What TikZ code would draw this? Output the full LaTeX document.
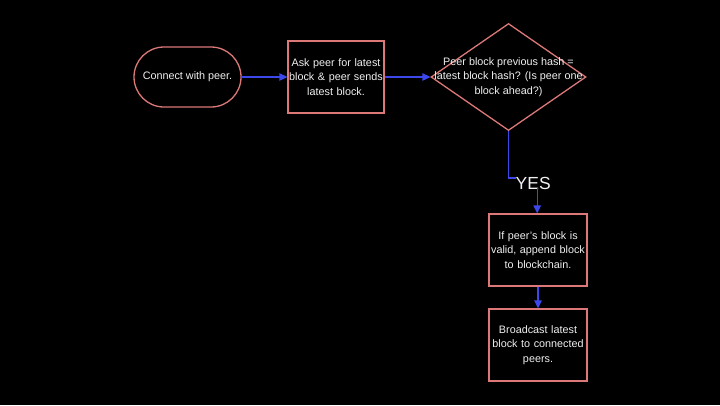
\documentclass[tikz,border=0pt]{standalone}
\usepackage{fontspec}
\setmainfont{Liberation Sans}
\usetikzlibrary{shapes.geometric,arrows.meta}
\definecolor{edgepink}{RGB}{220,120,120}
\definecolor{flowblue}{RGB}{60,72,235}
\definecolor{txt}{RGB}{240,240,240}
\begin{document}
\begin{tikzpicture}[x=1pt,y=-1pt,
  every node/.style={text=txt,font=\fontsize{10.8}{14.3}\selectfont},
  procbox/.style={draw=edgepink,line width=1.3pt,fill=black,minimum width=#1,minimum height=72pt,align=center,inner sep=1pt},
  flow/.style={draw=flowblue,line width=1.3pt,-{Triangle[length=8pt,width=7.5pt]}},
  flowline/.style={draw=flowblue,line width=1.3pt}]
\fill[black] (0,0) rectangle (720,405);
\useasboundingbox (0,0) rectangle (720,405);
\node[draw=edgepink,line width=1.3pt,rounded corners=30pt,minimum width=107pt,minimum height=60pt] (start) at (187.5,77) {Connect with peer.};
\node[procbox=94pt,text width=94pt] (ask) at (336,77) {Ask peer for latest\\block \& peer sends\\latest block.};
\node[draw=edgepink,line width=1.3pt,diamond,aspect=1.45,minimum width=155pt,minimum height=107pt,inner sep=0pt] (dec) at (508.5,77) {};
\node[align=center] at (508.5,77) {Peer block previous hash =\\latest block hash? (Is peer one\\block ahead?)};
\node[procbox=96pt,text width=96pt] (valid) at (538,250) {If peer's block is\\valid, append block\\to blockchain.};
\node[procbox=96pt,text width=96pt] (bcast) at (538,345) {Broadcast latest\\block to connected\\peers.};
\node[anchor=west,inner sep=0pt,font=\fontsize{17.5}{20}\selectfont] (yes) at (515.5,183) {YES};
\draw[flow] (start.east) -- (ask.west);
\draw[flow] (ask.east) -- (dec.west);
\draw[flowline] (dec.south) |- ([yshift=5pt]yes.west);
\draw[flow] ([xshift=4pt,yshift=2pt]yes.south) -- ([xshift=4pt]yes.south |- valid.north);
\draw[flow] (valid.south) -- (bcast.north);
\end{tikzpicture}
\end{document}
